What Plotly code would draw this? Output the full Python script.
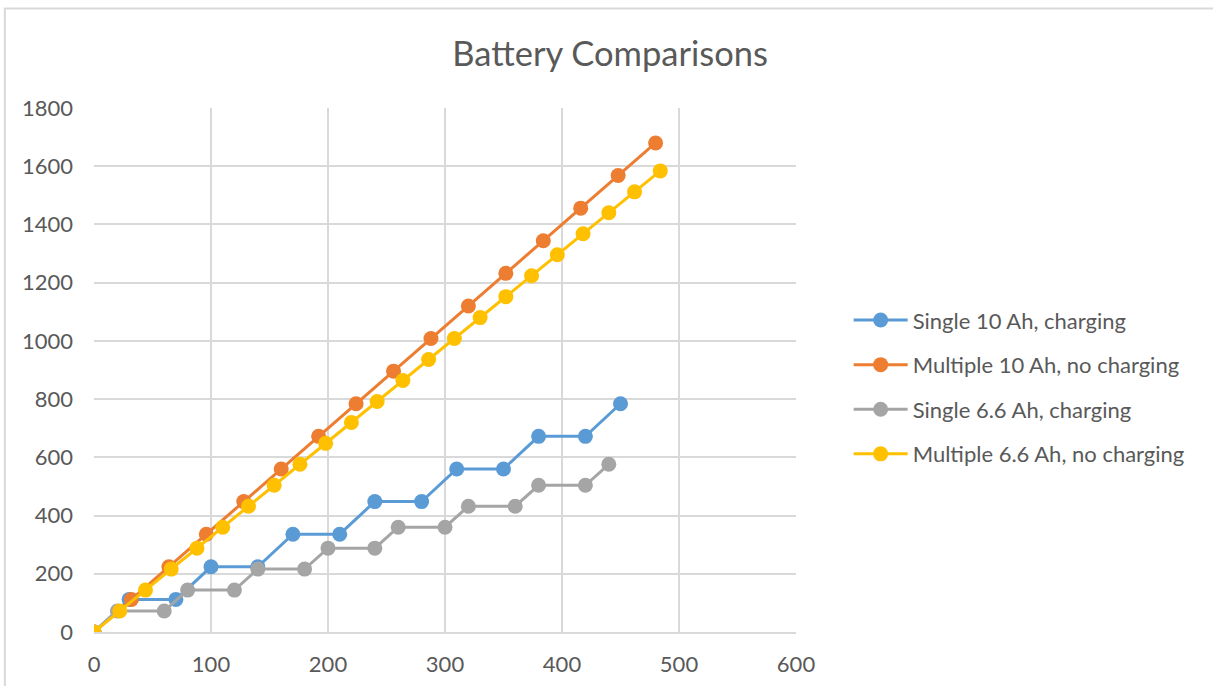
import plotly.graph_objects as go

# Minutes of operation (x) and cumulative distance/energy (y) for each configuration
single_10_x = [0, 30, 70, 100, 140, 170, 210, 240, 280, 310, 350, 380, 420, 450]
single_10_y = [0, 112, 112, 224, 224, 336, 336, 448, 448, 560, 560, 672, 672, 784]

multi_10_x = [0, 32, 64, 96, 128, 160, 192, 224, 256, 288, 320, 352, 384, 416, 448, 480]
multi_10_y = [0, 112, 224, 336, 448, 560, 672, 784, 896, 1008, 1120, 1232, 1344, 1456, 1568, 1680]

single_66_x = [0, 20, 60, 80, 120, 140, 180, 200, 240, 260, 300, 320, 360, 380, 420, 440]
single_66_y = [0, 72, 72, 144, 144, 216, 216, 288, 288, 360, 360, 432, 432, 504, 504, 576]

multi_66_x = [0, 22, 44, 66, 88, 110, 132, 154, 176, 198, 220, 242, 264, 286, 308, 330,
              352, 374, 396, 418, 440, 462, 484]
multi_66_y = [0, 72, 144, 216, 288, 360, 432, 504, 576, 648, 720, 792, 864, 936, 1008, 1080,
              1152, 1224, 1296, 1368, 1440, 1512, 1584]

series = [
    ("Single 10 Ah, charging", single_10_x, single_10_y, "#5B9BD5"),
    ("Multiple 10 Ah, no charging", multi_10_x, multi_10_y, "#ED7D31"),
    ("Single 6.6 Ah, charging", single_66_x, single_66_y, "#A5A5A5"),
    ("Multiple 6.6 Ah, no charging", multi_66_x, multi_66_y, "#FFC000"),
]

FONT = "Lato"
TEXT = "#595959"
GRID = "#d9d9d9"

fig = go.Figure()
for i, (name, xs, ys, color) in enumerate(series):
    fig.add_trace(go.Scatter(
        x=xs, y=ys, name=name, mode="lines+markers",
        line=dict(color=color, width=3),
        marker=dict(color=color, size=15),
        legendgroup=f"g{i}",
    ))

# Outer chart frame
fig.add_shape(type="rect", xref="paper", yref="paper",
              x0=-0.127, x1=1.7, y0=-0.2, y1=1.19,
              line=dict(color=GRID, width=2), fillcolor="rgba(0,0,0,0)", layer="below")

fig.update_layout(
    width=1213, height=686,
    margin=dict(l=94, r=417, t=108, b=54, autoexpand=False),
    paper_bgcolor="white", plot_bgcolor="white",
    font=dict(family=FONT, color=TEXT, size=22),
    title=dict(text="Battery Comparisons", x=0.503, xref="container",
               y=0.921, yref="container", xanchor="center", yanchor="middle",
               font=dict(family=FONT, size=34.5, color=TEXT)),
    legend=dict(x=1.075, xanchor="left", y=0.635, yanchor="top",
                traceorder="grouped", tracegroupgap=13, itemwidth=54,
                font=dict(family=FONT, size=22, color=TEXT),
                bgcolor="rgba(0,0,0,0)"),
    xaxis=dict(range=[0, 600], dtick=100, showgrid=True, gridcolor=GRID, gridwidth=2,
               zeroline=False, showline=True, linecolor=GRID, linewidth=2,
               ticks="", tickfont=dict(size=22, color=TEXT), ticklabelstandoff=12,
               automargin=False, fixedrange=True),
    yaxis=dict(range=[0, 1800], dtick=200, showgrid=True, gridcolor=GRID, gridwidth=2,
               zeroline=False, showline=False, automargin=False,
               ticks="", tickfont=dict(size=22, color=TEXT), ticklabelstandoff=20),
)

fig.write_html("out.html")
